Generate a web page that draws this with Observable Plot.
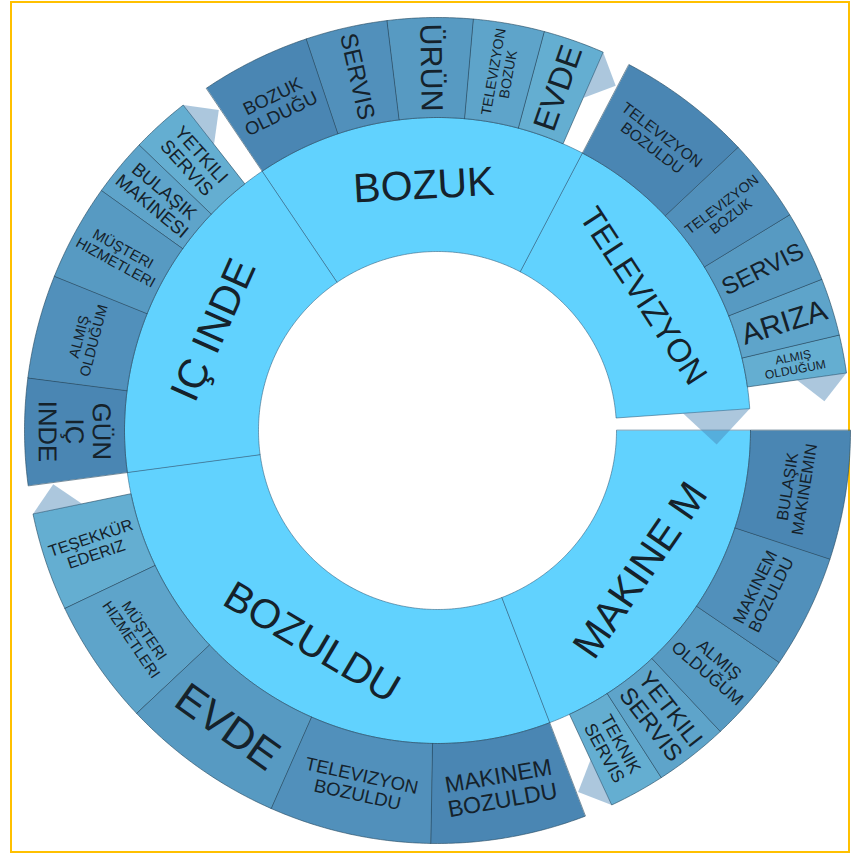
<!DOCTYPE html>
<html><head><meta charset="utf-8">
<script src="https://cdn.jsdelivr.net/npm/d3@7"></script>
<script src="https://cdn.jsdelivr.net/npm/@observablehq/plot@0.6"></script>
<style>
html,body{margin:0;padding:0;background:#fff;}
#wrap{position:relative;width:851px;height:854px;overflow:hidden;}
#frame{position:absolute;left:10px;top:1px;width:840px;height:852px;border:2.5px solid #FFC000;box-sizing:border-box;}
#chart{position:absolute;left:0;top:0;}
</style></head><body>
<div id="wrap"><div id="frame"></div><div id="chart"></div></div>
<script>
// ---- data ----
const groups = ["MAKINE M", "BOZULDU", "IÇ INDE", "BOZUK", "TELEVIZYON"];

const makineLabels = ["BULAŞIK\nMAKINEMIN", "MAKINEM\nBOZULDU", "ALMIŞ\nOLDUĞUM", "YETKILI\nSERVIS", "TEKNIK\nSERVIS"];
const makineValues = [18.2, 16.0, 12.6, 10.4, 7.8];

const bozulduLabels = ["MAKINEM\nBOZULDU", "TELEVIZYON\nBOZULDU", "EVDE", "MÜŞTERI\nHIZMETLERI", "TEŞEKKÜR\nEDERIZ"];
const bozulduValues = [21.9, 22.8, 23.0, 17.7, 13.8];

const icindeLabels = ["GÜN\nIÇ\nINDE", "ALMIŞ\nOLDUĞUM", "MÜŞTERI\nHIZMETLERI", "BULAŞIK\nMAKINESI", "YETKILI\nSERVIS"];
const icindeValues = [15.0, 14.6, 13.6, 8.2, 8.2];

const bozukLabels = ["BOZUK\nOLDUĞU", "SERVIS", "ÜRÜN", "TELEVIZYON\nBOZUK", "EVDE"];
const bozukValues = [15.5, 11.5, 12.0, 10.0, 8.6];

const televizyonLabels = ["TELEVIZYON\nBOZULDU", "TELEVIZYON\nBOZUK", "SERVIS", "ARIZA", "ALMIŞ\nOLDUĞUM"];
const televizyonValues = [19.1, 11.8, 10.0, 8.1, 5.3];

const childLabels = [makineLabels, bozulduLabels, icindeLabels, bozukLabels, televizyonLabels];
const childValues = [makineValues, bozulduValues, icindeValues, bozukValues, televizyonValues];

// ---- layout ----
const R0 = 179, R1 = 313, R2 = 413;       // ring radii
const GAP = 4;                             // degrees left empty at end of each sibling list
const rad = d => d * Math.PI / 180;
const total = d3.sum(childValues.flat());
const k = (360 - GAP * (groups.length + 1)) / total;

const innerSegs = [], outerSegs = [], ends = [];
let a = 0;
groups.forEach((g, i) => {
  const start = a;
  childValues[i].forEach((v, j) => {
    const s = a, e = a + v * k;
    outerSegs.push({label: childLabels[i][j], a0: s, a1: e, idx: j, n: childValues[i].length});
    a = e;
  });
  ends.push({angle: a, r0: R1, r1: R2});
  a += GAP;
  innerSegs.push({label: g, a0: start, a1: a});
});
ends.push({angle: a, r0: R0, r1: R1});

const shade = d3.interpolateRgb("#4a86b3", "#64aed1");
const innerColor = "#61d2fe";

function arcPts(id, a0, a1, r0, r1, fill) {
  const n = Math.max(2, Math.ceil((a1 - a0) / 0.5));
  const pts = [];
  for (let i = 0; i <= n; i++) { const t = rad(a0 + (a1 - a0) * i / n); pts.push({id, fill, x: r1 * Math.cos(t), y: r1 * Math.sin(t)}); }
  for (let i = n; i >= 0; i--) { const t = rad(a0 + (a1 - a0) * i / n); pts.push({id, fill, x: r0 * Math.cos(t), y: r0 * Math.sin(t)}); }
  return pts;
}

const innerPts = innerSegs.flatMap((s, i) => arcPts("in" + i, s.a0, s.a1, R0, R1, innerColor));
const outerPts = outerSegs.flatMap((s, i) => arcPts("out" + i, s.a0, s.a1, R1, R2, shade(s.idx / (s.n - 1))));

// pointer triangles at the end of each sibling list
const triPts = ends.flatMap((e, i) => {
  const rm = (e.r0 + e.r1) / 2, ra = (rm + e.r1) / 2;
  const h = (e.r1 - rm) / 2;
  const ap = e.angle + (h / ra) * 180 / Math.PI;
  return [
    {id: "t" + i, x: rm * Math.cos(rad(e.angle)), y: rm * Math.sin(rad(e.angle))},
    {id: "t" + i, x: e.r1 * Math.cos(rad(e.angle)), y: e.r1 * Math.sin(rad(e.angle))},
    {id: "t" + i, x: ra * Math.cos(rad(ap)), y: ra * Math.sin(rad(ap))}
  ];
});

// ---- label fitting ----
const ctx = document.createElement("canvas").getContext("2d");
ctx.font = '100px "Liberation Sans", Arial, sans-serif';
const emWidth = s => d3.max(s.split("\n"), l => ctx.measureText(l).width / 100);
const LH = 1.1;
const fit = (label, w, h, maxF) => Math.min(maxF, w / emWidth(label), h / (label.split("\n").length * LH));
const norm = d => { d = ((d % 360) + 360) % 360; if (d > 180) d -= 360; if (d > 90) d -= 180; if (d <= -90) d += 180; return d; };

const innerText = innerSegs.map(s => {
  const span = s.a1 - s.a0, mid = (s.a0 + s.a1) / 2, r = (R0 + R1) / 2;
  return {label: s.label, x: r * Math.cos(rad(mid)), y: r * Math.sin(rad(mid)), rot: norm(mid + 90),
    fs: fit(s.label, 2 * r * Math.sin(rad(span / 2)) * 0.85, (R1 - R0) * 0.8, 41)};
});
const outerText = outerSegs.map(s => {
  const span = s.a1 - s.a0, mid = (s.a0 + s.a1) / 2, r = (R1 + R2) / 2;
  const tangential = span >= 14;
  const fs = tangential
    ? fit(s.label, 2 * R1 * Math.sin(rad(span / 2)) * 0.93, (R2 - R1) * 0.85, 44)
    : fit(s.label, (R2 - R1) * 0.88, 2 * 338 * Math.sin(rad(span / 2)) * 0.85, 44);
  return {label: s.label, x: r * Math.cos(rad(mid)), y: r * Math.sin(rad(mid)),
    rot: norm(tangential ? mid + 90 : mid), fs};
});

const font = '"Liberation Sans", Arial, sans-serif';
const chart = Plot.plot({
  width: 851, height: 854, margin: 0,
  x: {domain: [-437, 414], range: [0, 851], axis: null},
  y: {domain: [-430, 424], range: [0, 854], axis: null},
  color: {type: "identity"},
  style: {background: "transparent", overflow: "visible"},
  marks: [
    Plot.line(innerPts, {x: "x", y: "y", z: "id", fill: "fill", stroke: "#2b5a78", strokeOpacity: 0.55, strokeWidth: 1, curve: "linear-closed"}),
    Plot.line(outerPts, {x: "x", y: "y", z: "id", fill: "fill", stroke: "#23485f", strokeOpacity: 0.6, strokeWidth: 1, curve: "linear-closed"}),
    Plot.line(triPts, {x: "x", y: "y", z: "id", fill: "#4682b4", fillOpacity: 0.45, stroke: "none", curve: "linear-closed"}),
    Plot.text(innerText, {x: "x", y: "y", text: "label", rotate: "rot", fontSize: "fs", fill: "#15222b", fontFamily: font, lineHeight: 1.05}),
    Plot.text(outerText, {x: "x", y: "y", text: "label", rotate: "rot", fontSize: "fs", fill: "#15222b", fontFamily: font, lineHeight: 1.05})
  ]
});
document.getElementById("chart").appendChild(chart);
</script>
</body></html>
